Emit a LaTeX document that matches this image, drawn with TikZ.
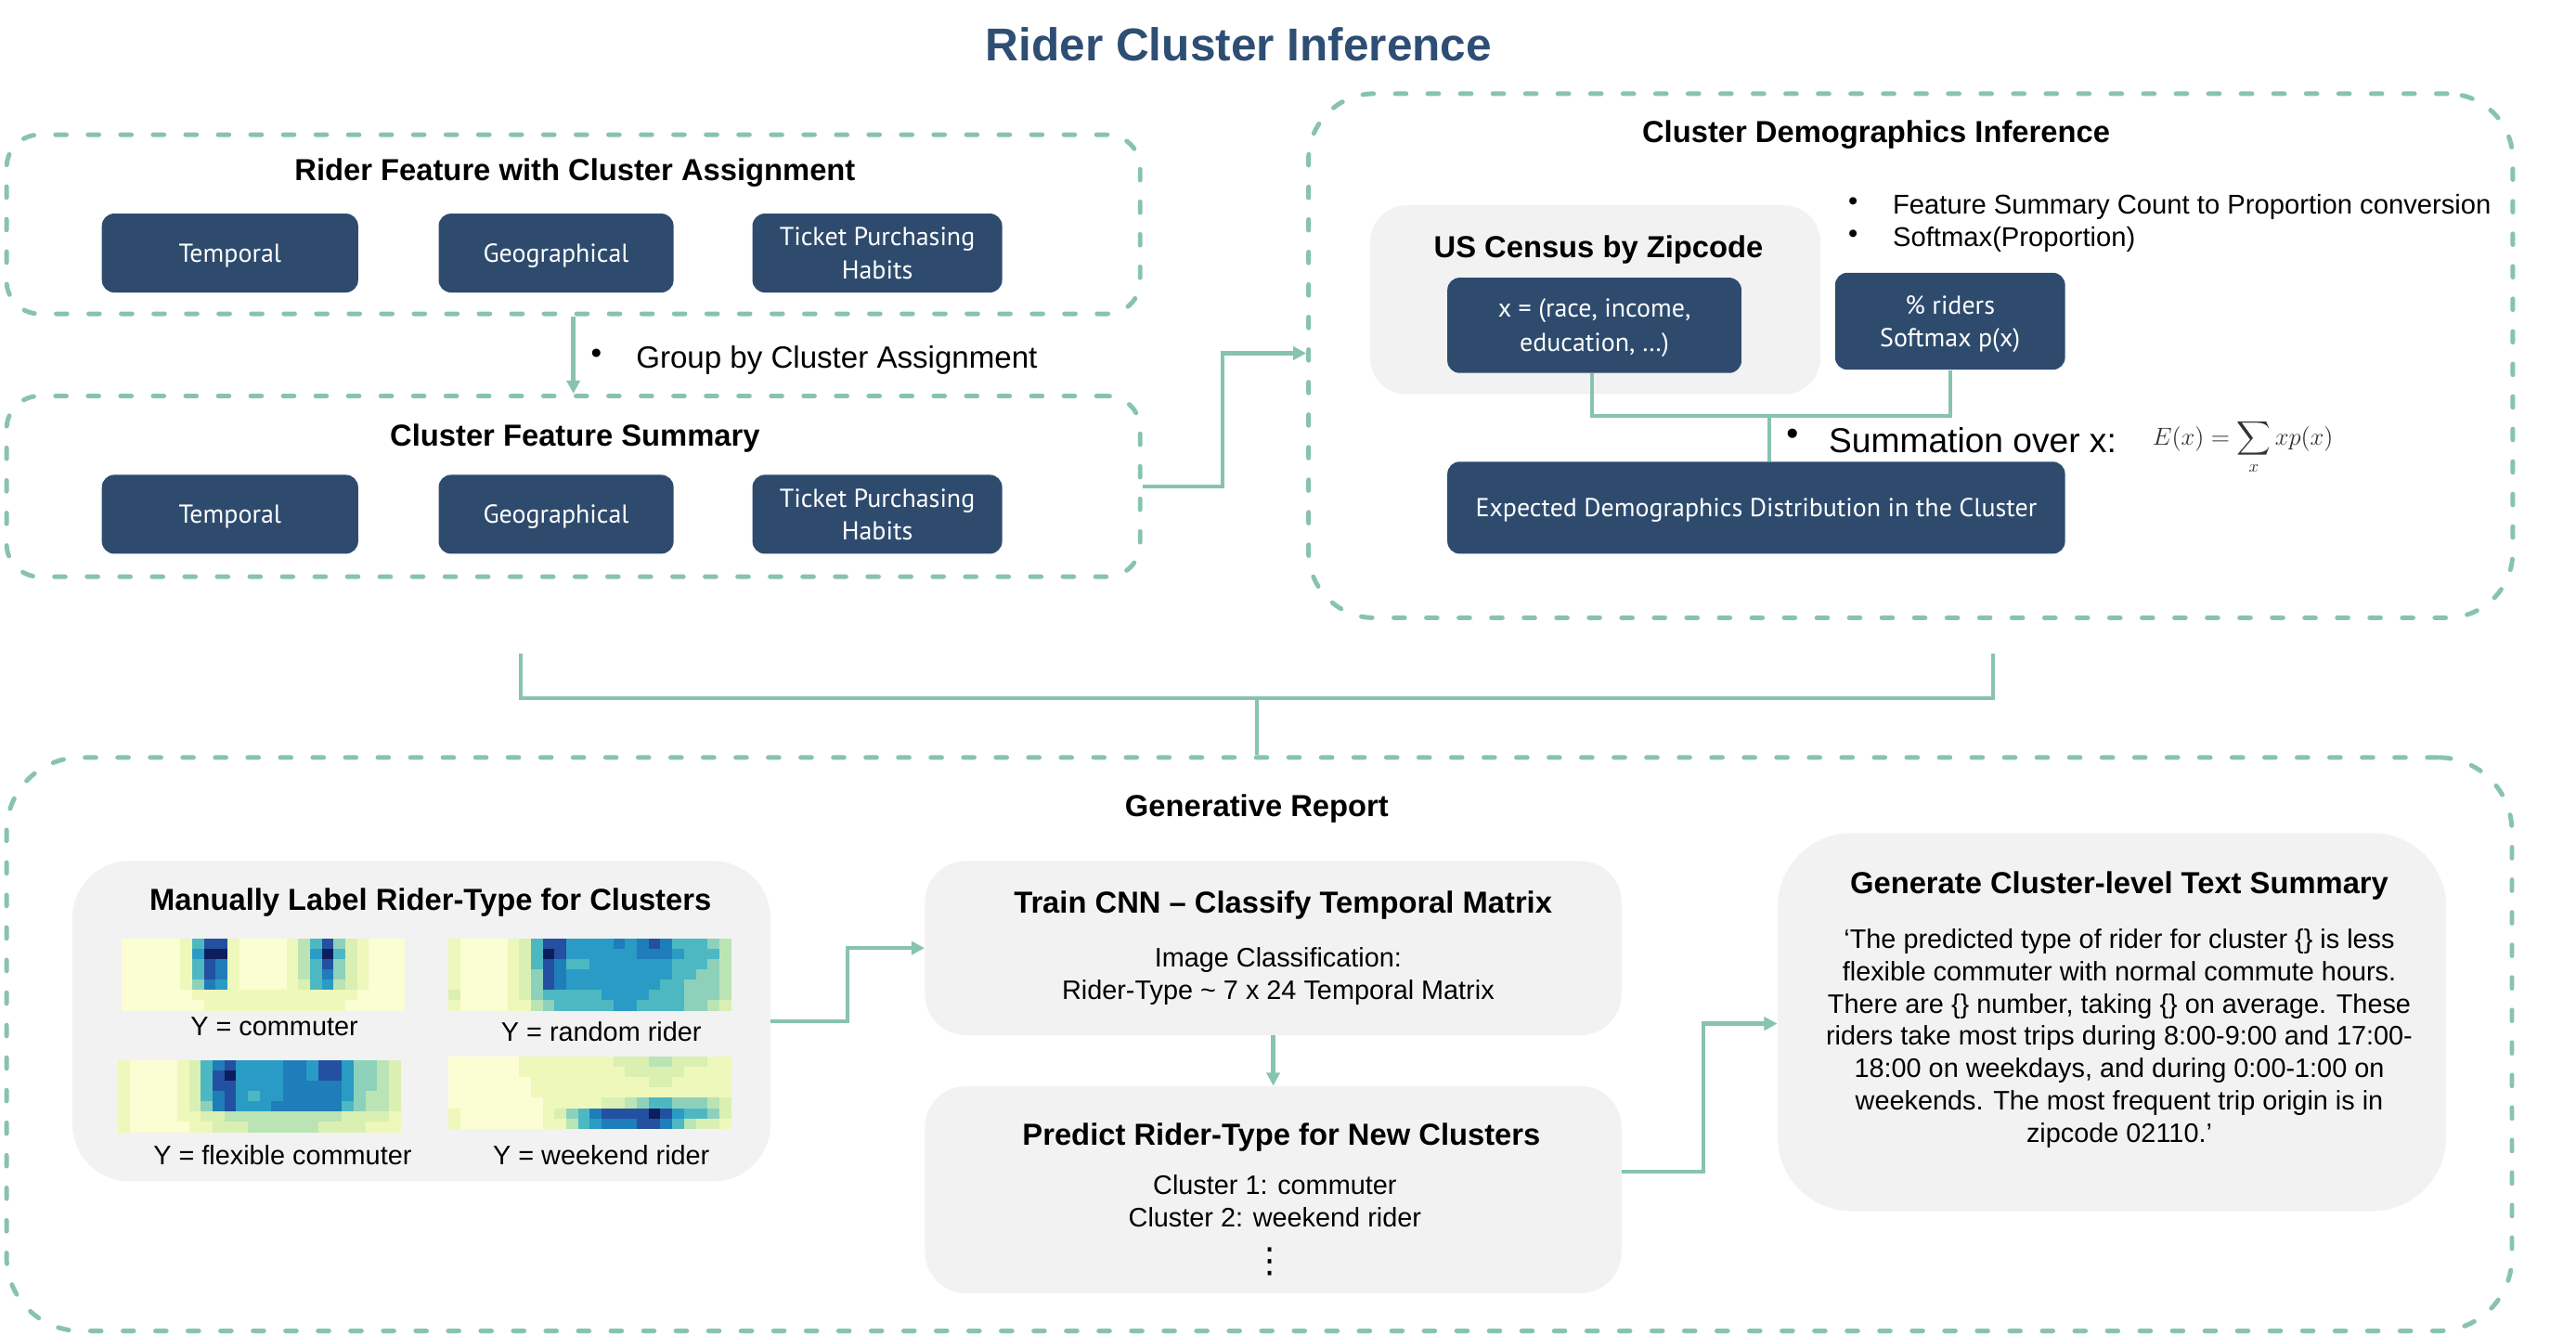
\RequirePackage{fix-cm}
\documentclass[tikz,border=0pt]{standalone}
\usepackage{exscale}
\usepackage{fontspec}
\setmainfont{Liberation Sans}
\newfontfamily\boxfont{PT Sans}
\newfontfamily\djv{DejaVu Sans}
\usetikzlibrary{arrows.meta,calc}
\definecolor{navy}{HTML}{2E4B6E}
\definecolor{tealc}{HTML}{88C2B2}
\definecolor{lgray}{HTML}{F2F2F2}
\definecolor{titleblue}{HTML}{2E4E74}
\definecolor{hm0}{HTML}{FBFDD3}
\definecolor{hm1}{HTML}{EEF8BA}
\definecolor{hm2}{HTML}{DAF0B2}
\definecolor{hm3}{HTML}{BBE4B5}
\definecolor{hm4}{HTML}{8ED1BA}
\definecolor{hm5}{HTML}{4DB8C2}
\definecolor{hm6}{HTML}{2A9BC5}
\definecolor{hm7}{HTML}{1F7DBA}
\definecolor{hm8}{HTML}{2450A2}
\definecolor{hm9}{HTML}{0B1E5E}
\newcommand{\hmap}[3]{%
  \foreach \row [count=\r from 0] in {#3} {
    \foreach \v [count=\c from 0] in \row {
      \fill[fill=hm\v] ({#1+\c*7.1667},{#2+\r*6.2857}) rectangle ++(7.3,6.4);
    }
  }
}
\begin{document}
\begin{tikzpicture}[x=1pt,y=-1pt,
  cont/.style={draw=tealc, line width=2.8pt, dash pattern=on 6.6pt off 13.2pt, line cap=round, inner sep=0pt},
  gbox/.style={fill=lgray, inner sep=0pt},
  dbox/.style={fill=navy, rounded corners=7.5pt, text=white, align=center, inner sep=0pt, text depth=0pt,
    font=\boxfont\fontsize{15.8}{20}\selectfont},
  head/.style={font=\bfseries\fontsize{18.5}{22}\selectfont, inner sep=0pt, yshift=-2pt},
  body/.style={font=\fontsize{16.3}{19.7}\selectfont, align=center, inner sep=0pt, yshift=-2pt},
  conn/.style={draw=tealc, line width=2.5pt},
  arr/.style={conn, -{Triangle[length=8pt,width=8pt]}},
]
\useasboundingbox (0,0) rectangle (1568,813);

% title
\node[font=\bfseries\fontsize{28}{32}\selectfont, text=titleblue, inner sep=0pt, yshift=-1pt] (title) at (754,26) {Rider Cluster Inference};

% ---------- containers ----------
\node[cont, rounded corners=20pt, minimum width=690pt, minimum height=109pt] (c1) at (349,136.5) {};
\node[cont, rounded corners=20pt, minimum width=690pt, minimum height=110pt] (c2) at (349,296) {};
\node[cont, rounded corners=40pt, minimum width=733pt, minimum height=319pt] (c3) at (1163,216.5) {};
\node[cont, rounded corners=45pt, minimum width=1525pt, minimum height=349pt] (c4) at (766.5,635.5) {};

% ---------- top-left ----------
\node[head] (h1) at (350,103) {Rider Feature with Cluster Assignment};
\node[dbox, minimum width=156pt, minimum height=48pt] (t1) at (140,154) {Temporal};
\node[dbox, minimum width=143pt, minimum height=48pt] (g1) at (338.5,154) {Geographical};
\node[dbox, minimum width=152pt, minimum height=48pt] (p1) at (534,154) {Ticket Purchasing\\Habits};

\node[head] (h2) at (350,265) {Cluster Feature Summary};
\node[dbox, minimum width=156pt, minimum height=48pt] (t2) at (140,313) {Temporal};
\node[dbox, minimum width=143pt, minimum height=48pt] (g2) at (338.5,313) {Geographical};
\node[dbox, minimum width=152pt, minimum height=48pt] (p2) at (534,313) {Ticket Purchasing\\Habits};

\draw[arr] (c1.south) -- (c2.north);
\node[font=\fontsize{18.7}{22}\selectfont, inner sep=0pt] (gb) at (363,217) {•};
\node[font=\fontsize{18.7}{22}\selectfont, inner sep=0pt, anchor=west, yshift=-2pt] (gbt) at (387,217) {Group by Cluster Assignment};

\coordinate (k1) at (744,215);
\draw[arr] (c2.east) -| (k1) -- (k1 -| c3.west);

% ---------- top-right ----------
\node[head] (h3) at (1142,80) {Cluster Demographics Inference};
\node[gbox, rounded corners=22pt, minimum width=274pt, minimum height=115pt] (us) at (971,182.5) {};
\node[head] (h4) at (973,150) {US Census by Zipcode};
\node[dbox, minimum width=179pt, minimum height=58pt, font=\boxfont\fontsize{15.8}{21}\selectfont] (xb) at (970.5,198) {x = (race, income,\\education, …)};
\node[font=\fontsize{16.5}{20}\selectfont, inner sep=0pt] (b1) at (1128,124) {•};
\node[font=\fontsize{16.5}{20}\selectfont, inner sep=0pt, anchor=west, yshift=-2pt] (b1t) at (1152,124) {Feature Summary Count to Proportion conversion};
\node[font=\fontsize{16.5}{20}\selectfont, inner sep=0pt] (b2) at (1128,144) {•};
\node[font=\fontsize{16.5}{20}\selectfont, inner sep=0pt, anchor=west, yshift=-2pt] (b2t) at (1152,144) {Softmax(Proportion)};
\node[dbox, minimum width=140pt, minimum height=59pt] (pr) at (1187,195.5) {\% riders\\Softmax p(x)};
\node[dbox, minimum width=376pt, minimum height=56pt] (ex) at (1069,309) {Expected Demographics Distribution in the Cluster};

\coordinate (jn) at (1077,253);
\draw[conn] (xb.south -| 969,0) |- (jn) -| (pr.south);
\draw[conn] (jn) -- (jn |- ex.north);
\node[font=\fontsize{21}{24}\selectfont, inner sep=0pt] (sb) at (1091,266) {•};
\node[font=\fontsize{21}{24}\selectfont, inner sep=0pt, anchor=west, yshift=-2pt] (sbt) at (1113,266) {Summation over x:};
\node[font=\fontsize{15}{17}\selectfont, text=black!80, inner sep=0pt, anchor=west] (fm) at (1310,272) {$\displaystyle E(x)=\sum\limits_x xp(x)$};

% ---------- bottom brace ----------
\coordinate (bl) at (317,398);
\coordinate (br) at (1213,398);
\coordinate (bm) at (765,425);
\draw[conn] (bl) |- (bm) -| (br);
\draw[conn] (bm) -- (bm |- c4.north);

% ---------- generative report ----------
\node[head] (h5) at (765,490) {Generative Report};

\node[gbox, rounded corners=35pt, minimum width=425pt, minimum height=195pt] (man) at (256.5,621.5) {};
\node[head] (h6) at (262,547) {Manually Label Rider-Type for Clusters};

% commuter
\hmap{74}{571}{
{0,0,0,0,0,1,5,8,8,1,0,0,0,0,1,3,5,8,4,2,1,0,0,0},
{0,0,0,0,0,1,6,9,9,1,0,0,0,0,1,3,6,9,5,2,1,0,0,0},
{0,0,0,0,0,1,5,8,7,1,0,0,0,0,1,3,5,8,4,2,1,0,0,0},
{0,0,0,0,0,1,5,8,7,1,0,0,0,0,1,3,5,7,4,2,1,0,0,0},
{0,0,0,0,0,1,4,7,6,1,0,0,0,0,1,2,5,6,3,2,1,0,0,0},
{0,0,0,0,0,0,1,1,1,1,1,1,1,1,1,1,1,1,1,1,0,0,0,0},
{0,0,0,0,0,0,0,1,1,1,1,1,1,1,1,1,1,1,1,0,0,0,0,0}}
% random rider
\hmap{273}{571}{
{1,0,0,0,0,1,2,5,8,8,6,6,6,6,7,6,7,8,7,5,5,5,4,3},
{1,0,0,0,0,1,2,5,9,8,6,6,6,6,6,6,7,7,7,6,5,5,5,3},
{1,0,0,0,0,1,2,5,8,7,5,5,6,6,6,6,6,6,6,5,5,5,4,3},
{1,0,0,0,0,1,2,4,8,7,6,6,6,6,6,6,6,6,6,5,5,4,4,3},
{1,0,0,0,0,1,2,4,8,7,6,6,6,6,6,6,6,6,5,5,4,4,4,3},
{2,0,0,0,0,1,2,4,5,5,5,5,5,6,6,6,6,5,5,5,4,4,4,3},
{1,0,0,0,0,1,1,3,4,5,5,5,5,5,6,6,5,5,5,5,4,4,3,2}}
% flexible commuter
\hmap{72}{645}{
{1,0,0,0,0,1,2,5,7,8,6,6,6,6,7,7,6,8,8,6,4,4,3,2},
{1,0,0,0,0,1,2,5,8,9,6,6,6,6,7,7,6,8,8,6,4,4,3,2},
{1,0,0,0,0,1,2,5,8,8,6,6,6,6,7,7,7,7,7,6,4,4,3,2},
{1,0,0,0,0,1,2,5,7,8,6,5,6,6,7,7,7,7,7,6,4,3,3,2},
{1,0,0,0,0,1,2,4,7,8,6,6,6,7,7,7,7,7,7,5,4,3,3,2},
{1,0,0,0,0,1,1,2,2,3,3,3,3,3,3,3,3,3,3,2,2,2,2,1},
{1,0,0,0,0,0,1,1,2,2,2,3,3,3,3,3,3,2,2,2,2,1,1,1}}
% weekend rider
\hmap{273}{643}{
{0,0,0,0,0,0,1,1,1,1,1,1,1,1,2,2,2,3,3,2,2,2,1,1},
{0,0,0,0,0,0,1,1,1,1,1,1,1,1,1,2,2,2,2,2,1,1,1,1},
{0,0,0,0,0,0,0,1,1,1,1,1,1,1,1,1,1,2,2,1,1,1,1,1},
{0,0,0,0,0,0,0,1,1,1,1,1,1,1,1,1,1,1,1,1,1,1,1,1},
{0,0,0,0,0,0,0,0,1,1,1,1,1,2,2,3,4,5,5,4,4,4,3,2},
{1,0,0,0,0,0,0,0,1,2,4,5,7,8,8,8,8,9,8,6,5,5,4,2},
{1,0,0,0,0,0,0,0,1,1,3,5,6,7,7,7,8,8,7,5,3,2,2,1}}

\node[body] (l1) at (167,623) {Y = commuter};
\node[body] (l2) at (366,626) {Y = random rider};
\node[body] (l3) at (172,701) {Y = flexible commuter};
\node[body] (l4) at (366,701) {Y = weekend rider};

\node[gbox, rounded corners=25pt, minimum width=424pt, minimum height=106pt] (train) at (775,577) {};
\node[head] (h7) at (781,549) {Train CNN -- Classify Temporal Matrix};
\node[body] (tb) at (778,592) {Image Classification:\\Rider-Type {\char`\~} 7 x 24 Temporal Matrix};

\node[gbox, rounded corners=25pt, minimum width=424pt, minimum height=126pt] (pred) at (775,724) {};
\node[head] (h8) at (780,690) {Predict Rider-Type for New Clusters};
\node[body] (pb) at (776,729) {Cluster 1: commuter\\Cluster 2: weekend rider};
\node[font=\djv\fontsize{21}{24}\selectfont, inner sep=0pt] (vd) at (773,768) {⋮};

\node[gbox, rounded corners=45pt, minimum width=407pt, minimum height=230pt] (gen) at (1285.5,622) {};
\node[head] (h9) at (1290,537) {Generate Cluster-level Text Summary};
\node[body] (gb2) at (1290,630) {`The predicted type of rider for cluster \{\} is less\\flexible commuter with normal commute hours.\\There are \{\} number, taking \{\} on average. These\\riders take most trips during 8:00-9:00 and 17:00-\\18:00 on weekdays, and during 0:00-1:00 on\\weekends. The most frequent trip origin is in\\zipcode 02110.'};

\coordinate (k2) at (516,577);
\draw[arr] (man.east) -| (k2) -- (k2 -| train.west);
\draw[arr] (train.south) -- (pred.north);
\coordinate (k3) at (1037,623);
\draw[arr] ([yshift=11pt]pred.east) -| (k3) -- (k3 -| gen.west);
\end{tikzpicture}
\end{document}
